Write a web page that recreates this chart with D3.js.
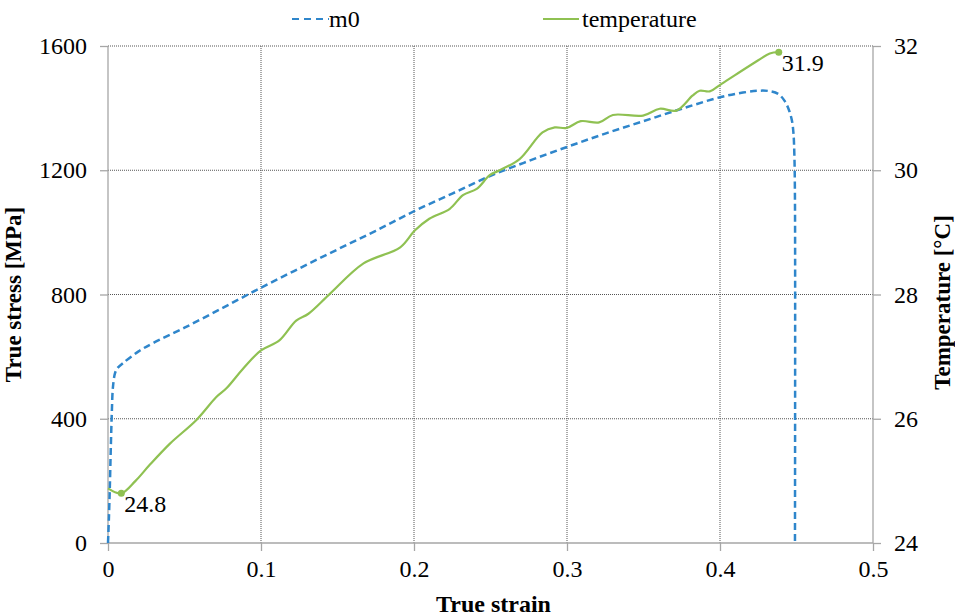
<!DOCTYPE html>
<html>
<head>
<meta charset="utf-8">
<script src="https://cdn.jsdelivr.net/npm/d3@7"></script>
<style>
  body { margin: 0; background: #fff; }
  text { font-family: "Liberation Serif", "Times New Roman", serif; fill: #000; }
</style>
</head>
<body>
<div id="chartContainer"></div>
<script>
// m0 curve: true strain vs true stress [MPa]
var m0Strain = [0, 0.0006, 0.0012, 0.0018, 0.0025, 0.0032, 0.0045, 0.006, 0.01, 0.02, 0.03, 0.05, 0.075,
  0.1, 0.125, 0.15, 0.175, 0.2, 0.225, 0.25, 0.275, 0.3, 0.325, 0.35, 0.375, 0.4, 0.415, 0.425,
  0.432, 0.438, 0.442, 0.445, 0.447, 0.448, 0.4486, 0.449, 0.449];
var m0Stress = [0, 80, 180, 300, 420, 500, 545, 562, 580, 617, 645, 693, 757,
  822, 884, 945, 1005, 1068, 1125, 1182, 1230, 1275, 1318, 1358, 1398, 1435, 1450, 1456,
  1455, 1446, 1425, 1395, 1360, 1320, 1250, 1100, 0];

// temperature curve: true strain vs temperature [°C]
var tempStrain = [0, 0.0087, 0.018, 0.027, 0.0405, 0.0578, 0.0708, 0.0774, 0.0884, 0.1, 0.112, 0.123,
  0.131, 0.145, 0.167, 0.191, 0.2005, 0.21, 0.2234, 0.232, 0.241, 0.2495, 0.256, 0.269, 0.284, 0.292,
  0.2997, 0.309, 0.321, 0.330, 0.3497, 0.3606, 0.3715, 0.382, 0.3867, 0.3933, 0.401, 0.425, 0.4325, 0.4384];
var tempValue = [24.88, 24.8, 25.0, 25.25, 25.6, 25.98, 26.35, 26.49, 26.81, 27.1, 27.26, 27.58,
  27.69, 28.01, 28.5, 28.76, 29.03, 29.22, 29.38, 29.6, 29.7, 29.92, 30.0, 30.18, 30.61, 30.69,
  30.68, 30.79, 30.77, 30.89, 30.88, 30.99, 30.96, 31.2, 31.28, 31.27, 31.39, 31.77, 31.88, 31.9];

var xTicks = [0, 0.1, 0.2, 0.3, 0.4, 0.5];
var xTickLabels = ["0", "0.1", "0.2", "0.3", "0.4", "0.5"];
var yTicks = [0, 400, 800, 1200, 1600];
var y2Ticks = [24, 26, 28, 30, 32];
var labelIdx = [1, tempStrain.length - 1];
var labelText = ["24.8", "31.9"];

var margin = {top: 46, right: 82, bottom: 73, left: 108},
    width = 955 - margin.left - margin.right,
    height = 616 - margin.top - margin.bottom;

var svg = d3.select("#chartContainer").append("svg")
  .attr("width", 955)
  .attr("height", 616)
  .append("g")
    .attr("transform", "translate(" + margin.left + " " + margin.top + ")");

var x = d3.scaleLinear().domain([0, 0.5]).range([0, width]);
var y = d3.scaleLinear().domain([0, 1600]).range([height, 0]);
var y2 = d3.scaleLinear().domain([24, 32]).range([height, 0]);

// dotted gridlines
svg.selectAll(".hgrid").data(yTicks.slice(1)).enter().append("line")
  .attr("x1", 0).attr("x2", width)
  .attr("y1", d => y(d)).attr("y2", d => y(d))
  .attr("stroke", "#555").attr("stroke-width", 1).attr("stroke-dasharray", "1,1");
svg.selectAll(".vgrid").data(xTicks.slice(1, -1)).enter().append("line")
  .attr("y1", 0).attr("y2", height)
  .attr("x1", d => x(d)).attr("x2", d => x(d))
  .attr("stroke", "#555").attr("stroke-width", 1).attr("stroke-dasharray", "1,1");

var axisColor = "#a6a6a6";
var fs = 24;

var xAxis = d3.axisBottom(x).tickValues(xTicks)
  .tickFormat((d, i) => xTickLabels[i]).tickSize(8).tickPadding(9);
var yAxis = d3.axisLeft(y).tickValues(yTicks).tickFormat(d3.format("d")).tickSize(8).tickPadding(13);
var y2Axis = d3.axisRight(y2).tickValues(y2Ticks).tickSize(8).tickPadding(13);

function style(g) {
  g.select(".domain").attr("stroke", axisColor).attr("stroke-width", 1.3);
  g.selectAll(".tick line").attr("stroke", axisColor).attr("stroke-width", 1.3);
  g.selectAll(".tick text").attr("font-size", fs).attr("fill", "#000");
}

svg.append("g").attr("transform", "translate(0," + height + ")").call(xAxis).call(style)
  .select(".domain").attr("d", "M0,0H" + width);
svg.append("g").call(yAxis).call(style)
  .select(".domain").attr("d", "M0," + height + "V0");
svg.append("g").attr("transform", "translate(" + width + ",0)").call(y2Axis).call(style)
  .select(".domain").attr("d", "M0," + height + "V0");

// series
var blue = "#2f86cb", green = "#8fc152";

var m0Line = d3.line()
  .x((d, i) => x(m0Strain[i]))
  .y(d => y(d))
  .curve(d3.curveCatmullRom.alpha(0.5));
svg.append("path").datum(m0Stress)
  .attr("d", m0Line)
  .attr("fill", "none").attr("stroke", blue).attr("stroke-width", 2.5)
  .attr("stroke-dasharray", "7,4");

var tLine = d3.line()
  .x((d, i) => x(tempStrain[i]))
  .y(d => y2(d))
  .curve(d3.curveCatmullRom.alpha(0.5));
svg.append("path").datum(tempValue)
  .attr("d", tLine)
  .attr("fill", "none").attr("stroke", green).attr("stroke-width", 2.2);

// labelled points
labelIdx.forEach(function(k, i){
  svg.append("circle")
    .attr("cx", x(tempStrain[k])).attr("cy", y2(tempValue[k]))
    .attr("r", 3.5).attr("fill", green);
  svg.append("text")
    .attr("x", x(tempStrain[k]) + 3).attr("y", y2(tempValue[k]) + 19)
    .attr("font-size", fs)
    .text(labelText[i]);
});

// axis titles
svg.append("text")
  .attr("transform", "translate(" + (-87) + "," + (height / 2) + ") rotate(-90)")
  .attr("text-anchor", "middle").attr("font-size", 23).attr("font-weight", "bold")
  .text("True stress [MPa]");
svg.append("text")
  .attr("transform", "translate(" + (width + 77) + "," + (height / 2 + 8) + ") rotate(-90)")
  .attr("text-anchor", "middle").attr("font-size", 23).attr("font-weight", "bold")
  .text("Temperature [°C]");
svg.append("text")
  .attr("x", width / 2 + 3).attr("y", height + 69)
  .attr("text-anchor", "middle").attr("font-size", 24).attr("font-weight", "bold")
  .text("True strain");

// legend
var legend = svg.append("g").attr("transform", "translate(0," + (-27) + ")");
legend.append("line")
  .attr("x1", 184).attr("x2", 221).attr("y1", 0).attr("y2", 0)
  .attr("stroke", blue).attr("stroke-width", 2.2).attr("stroke-dasharray", "7,5");
legend.append("text").attr("x", 221).attr("y", 8).attr("font-size", fs).text("m0");
legend.append("line")
  .attr("x1", 435).attr("x2", 471).attr("y1", 0).attr("y2", 0)
  .attr("stroke", green).attr("stroke-width", 2.2);
legend.append("text").attr("x", 474).attr("y", 8).attr("font-size", fs).text("temperature");
</script>
</body>
</html>
